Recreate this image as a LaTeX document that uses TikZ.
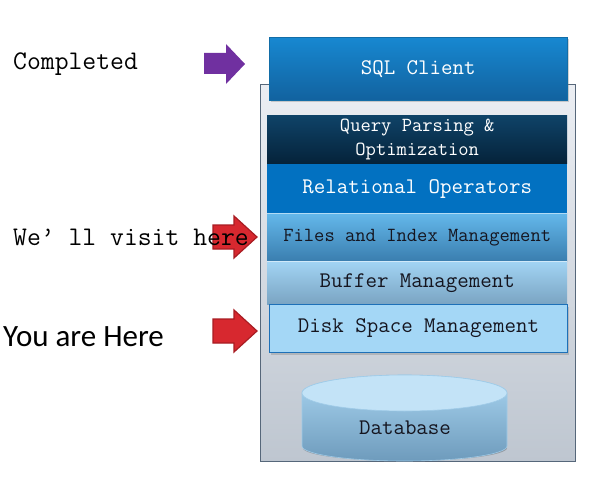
\documentclass[tikz,border=0pt]{standalone}
\usepackage{fontspec}
\setmainfont{Liberation Serif}
\newfontfamily\calfont{Carlito}
\usetikzlibrary{shadows}
\definecolor{outerline}{HTML}{56677A}
\definecolor{outertop}{HTML}{EBEEF3}
\definecolor{outerbot}{HTML}{BEC6D0}
\definecolor{sqltop}{HTML}{1788D1}
\definecolor{sqlbot}{HTML}{12629F}
\definecolor{qtop}{HTML}{0F4368}
\definecolor{qbot}{HTML}{05233A}
\definecolor{relfill}{HTML}{0271C1}
\definecolor{ftop}{HTML}{64B8EB}
\definecolor{fbot}{HTML}{3A7EAF}
\definecolor{btop}{HTML}{A2D4F4}
\definecolor{bbot}{HTML}{7AA4C2}
\definecolor{diskfill}{HTML}{A4D7F6}
\definecolor{diskline}{HTML}{1D70B8}
\definecolor{dbtop}{HTML}{C3E3F7}
\definecolor{dbline}{HTML}{9FCBE8}
\definecolor{dbbodytop}{HTML}{A9D5F1}
\definecolor{dbbodybot}{HTML}{6E9BBC}
\definecolor{purplearrow}{HTML}{7030A0}
\definecolor{redarrow}{HTML}{D7282F}
\definecolor{redline}{HTML}{A81C22}
\definecolor{darktext}{HTML}{15151F}
\begin{document}
\begin{tikzpicture}[x=1pt,y=-1pt,
  layer/.style={anchor=north west, inner sep=0pt, minimum width=300pt, align=center},
  monotext/.style={font=\fontsize{22.3}{24}\ttfamily},
  smalltext/.style={font=\fontsize{20}{24}\ttfamily},
  sidetext/.style={anchor=west, inner sep=0pt, font=\fontsize{26.9}{28}\ttfamily, text=black},
  shade1/.style={drop shadow={shadow xshift=1.5pt, shadow yshift=-2pt, opacity=0.35}}
]
\useasboundingbox (0,0) rectangle (589,487);

% outer container
\node[anchor=north west, inner sep=0pt, minimum width=315pt, minimum height=377pt,
      draw=outerline, line width=1.2pt, top color=outertop, bottom color=outerbot] (stack) at (260,84) {};

% SQL client
\node[layer, minimum width=298pt, minimum height=63pt, top color=sqltop, bottom color=sqlbot,
      draw=sqltop!80!black, line width=0.4pt, shade1, monotext, text=white] (sql) at (269,37) {SQL Client};

% layers
\node[layer, minimum height=48pt, top color=qtop, bottom color=qbot, smalltext, text=white] (query) at (267,115)
  {Query Parsing \&\\[0pt]Optimization};
\node[layer, minimum height=49pt, fill=relfill, monotext, text=white] (rel) at (267,164) {Relational Operators};
\node[layer, minimum height=48pt, top color=ftop, bottom color=fbot, smalltext, text=darktext] (files) at (267,213)
  {Files and Index Management};
\node[layer, minimum height=43pt, top color=btop, bottom color=bbot, monotext, text=darktext] (buffer) at (267,261)
  {Buffer Management};
\draw[white, opacity=0.5, line width=0.8pt] (files.north west) -- (files.north east);
\draw[white, opacity=0.5, line width=0.8pt] (buffer.north west) -- (buffer.north east);
\node[layer, minimum width=298pt, minimum height=48pt, fill=diskfill, draw=diskline, line width=1pt,
      shade1, monotext, text=darktext] (disk) at (269,304) {Disk Space Management};

% database cylinder
\fill[black, opacity=0.22] (405,448) ellipse [x radius=102, y radius=13];
\shade[top color=dbbodytop, bottom color=dbbodybot, draw=dbline, line width=0.6pt]
  (302,393) -- (302,446) arc[start angle=180, end angle=0, x radius=102.5, y radius=15]
  -- (507,393) arc[start angle=0, end angle=-180, x radius=102.5, y radius=18] -- cycle;
\draw[dbline, line width=0.6pt, fill=dbtop] (404.5,393) ellipse [x radius=102.5, y radius=18];
\node[monotext, text=darktext, inner sep=0pt] (db) at (405,428) {Database};

% arrows
\fill[purplearrow] (204,53) -- (226,53) -- (226,44) -- (245,64) -- (226,84) -- (226,74) -- (204,74) -- cycle;
\foreach \cy in {237,331}{
  \filldraw[fill=redarrow, draw=redline, line width=1.2pt, line join=miter]
    (213,\cy-12) -- (234,\cy-12) -- (234,\cy-21) -- (257,\cy) -- (234,\cy+21) -- (234,\cy+12) -- (213,\cy+12) -- cycle;
}

% side texts
\node[sidetext] (completed) at (13,64) {Completed};
\node[sidetext] (visit) at (13,237) {We’ ll visit here};
\node[anchor=west, inner sep=0pt, font=\fontsize{31}{33}\calfont, text=black] (here) at (3,337) {You are Here};
\end{tikzpicture}
\end{document}
